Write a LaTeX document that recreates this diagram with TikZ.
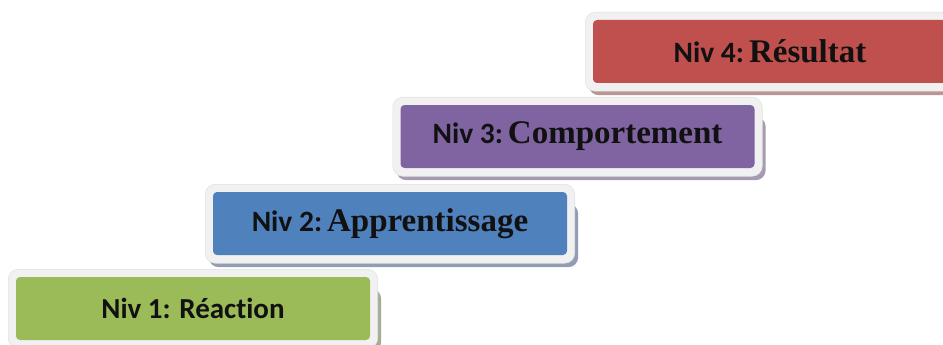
\documentclass[tikz,border=0pt]{standalone}
\usepackage{fontspec}
\newfontfamily\labelsans[Ligatures={NoCommon,NoDiscretionary}]{Carlito}
\newfontfamily\labelserif{Liberation Serif}
\usetikzlibrary{backgrounds}

\definecolor{lvlgreen}{HTML}{9BBB59}
\definecolor{lvlblue}{HTML}{4F81BD}
\definecolor{lvlpurple}{HTML}{8064A2}
\definecolor{lvlred}{HTML}{C0504D}
\definecolor{shgreen}{HTML}{A3AD96}
\definecolor{shblue}{HTML}{909DB2}
\definecolor{shpurple}{HTML}{A69CB1}
\definecolor{shred}{HTML}{B99694}
\definecolor{framefill}{HTML}{F1F1F1}
\definecolor{frameedge}{HTML}{E2E2E2}
\definecolor{inktext}{HTML}{111111}

\newcommand{\nivlabel}[2]{{\labelsans\bfseries\fontsize{29.5}{30}\selectfont #1}\hspace{5pt}{\labelserif\bfseries\fontsize{33}{34}\selectfont #2}}

\tikzset{
  level/.style={rectangle, rounded corners=4pt, minimum width=354pt,
    minimum height=63pt, inner sep=0pt, text=inktext, fill=#1},
  framebox/.style={fill=framefill, draw=frameedge, line width=0.6pt, rounded corners=10pt},
  shadowbox/.style={fill=#1, rounded corners=10pt}
}

\begin{document}
\begin{tikzpicture}[x=1pt,y=-1pt]
  \useasboundingbox (0,0) rectangle (943,345);

  % the four levels, rising step by step to the right
  \node[level=lvlgreen]  (n1) at (193,308.5) {{\labelsans\bfseries\fontsize{29}{30}\selectfont Niv 1: Réaction}};
  \node[level=lvlblue]   (n2) at (390,223.5) {\nivlabel{Niv 2:}{Apprentissage}};
  \node[level=lvlpurple] (n3) at (577.5,136.5) {\nivlabel{Niv 3:}{Comportement}};
  \node[level=lvlred]    (n4) at (770,51.5) {\nivlabel{Niv 4:}{Résultat}};

  % light frames with a tinted drop shadow behind each level
  \begin{scope}[on background layer]
    \foreach \n/\sh in {n1/shgreen, n2/shblue, n3/shpurple, n4/shred}{
      \fill[shadowbox=\sh] ([xshift=-4pt,yshift=-12pt]\n.north west) rectangle ([xshift=11pt,yshift=-12pt]\n.south east);
      \path[framebox] ([xshift=-7.5pt,yshift=7.5pt]\n.north west) rectangle ([xshift=7.5pt,yshift=-8pt]\n.south east);
    }
  \end{scope}
\end{tikzpicture}
\end{document}
